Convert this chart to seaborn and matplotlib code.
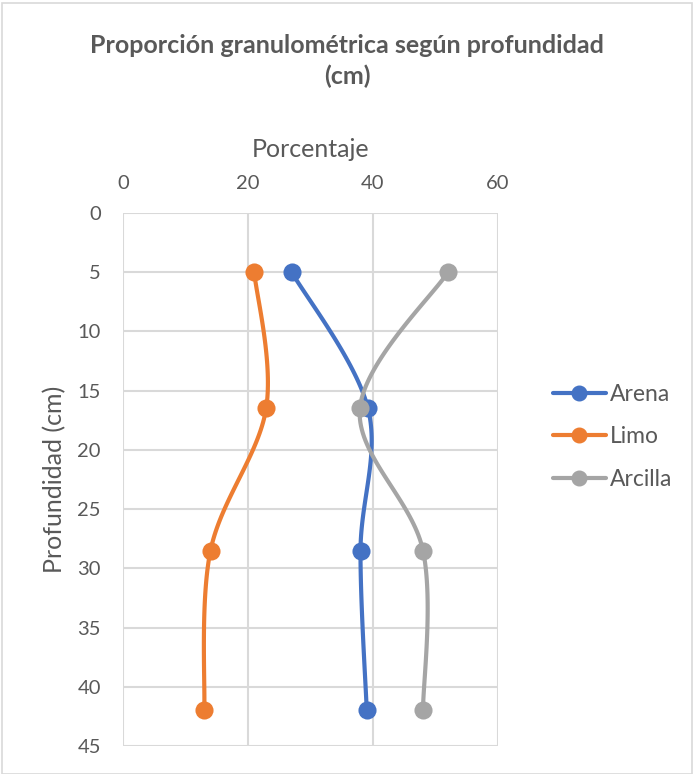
import numpy as np
import pandas as pd
import matplotlib
matplotlib.use("Agg")
import matplotlib.pyplot as plt
from matplotlib.patches import Rectangle
from matplotlib.lines import Line2D
import seaborn as sns

# Sampling depths (cm) and fraction percentages per texture class
profundidad = [5, 16.5, 28.5, 42]
arena = [27, 39.2, 38, 39]
limo = [21, 22.9, 14, 13]
arcilla = [52, 37.9, 48, 48]

series_names = ["Arena", "Limo", "Arcilla"]
series_colors = ["#4472C4", "#ED7D31", "#A5A5A5"]
x_ticks = [0, 20, 40, 60]
y_ticks = [0, 5, 10, 15, 20, 25, 30, 35, 40, 45]

sns.set_theme(style="white")
plt.rcParams["font.family"] = ["Lato", "DejaVu Sans"]

W, H = 694, 774
fig = plt.figure(figsize=(W / 100, H / 100), dpi=100)
ax = fig.add_axes([123 / W, 1 - 746 / H, (498 - 123) / W, (746 - 213) / H])

# Pixel scale of the axes, used so the smoothing behaves like a spreadsheet chart
sx = (498 - 123) / 60.0
sy = (746 - 213) / 45.0


def smooth(xs, ys, n=40, t=1 / 6):
    px = np.array(xs, float) * sx
    py = np.array(ys, float) * sy
    P = np.column_stack([px, py])
    out = []
    for i in range(len(P) - 1):
        p0 = P[i - 1] if i > 0 else P[i]
        p1 = P[i]
        p2 = P[i + 1]
        p3 = P[i + 2] if i + 2 < len(P) else P[i + 1]
        c1 = p1 + (p2 - p0) * t
        c2 = p2 - (p3 - p1) * t
        u = np.linspace(0, 1, n)[:, None]
        seg = ((1 - u) ** 3) * p1 + 3 * ((1 - u) ** 2) * u * c1 + 3 * (1 - u) * u ** 2 * c2 + u ** 3 * p2
        out.append(seg if i == 0 else seg[1:])
    seg = np.vstack(out)
    return seg[:, 0] / sx, seg[:, 1] / sy


for name, vals, col in zip(series_names, [arena, limo, arcilla], series_colors):
    cx, cy = smooth(vals, profundidad)
    curve = pd.DataFrame({"x": cx, "y": cy})
    sns.lineplot(data=curve, x="x", y="y", sort=False, estimator=None,
                 color=col, linewidth=3, ax=ax, zorder=3)
    pts = pd.DataFrame({"x": vals, "y": profundidad})
    sns.scatterplot(data=pts, x="x", y="y", color=col, s=170, linewidth=0,
                    ax=ax, zorder=4)

ax.set_xlim(0, 60)
ax.set_ylim(45, 0)
ax.set_xticks(x_ticks)
ax.set_yticks(y_ticks)
ax.xaxis.tick_top()
ax.xaxis.set_label_position("top")
ax.grid(True, color="#D9D9D9", linewidth=1.5)
ax.set_axisbelow(True)
for s in ax.spines.values():
    s.set_visible(False)
ax.tick_params(axis="both", length=0, labelsize=14.5, labelcolor="#595959")
ax.tick_params(axis="x", pad=15)
ax.tick_params(axis="y", pad=16)
ax.set_xlabel("Porcentaje", fontsize=18, color="#595959", labelpad=13)
ax.set_ylabel("Profundidad (cm)", fontsize=18, color="#595959", labelpad=8)

fig.text(0.5, 1 - 61 / H, "Proporción granulométrica según profundidad\n(cm)",
         ha="center", va="center", fontsize=18, fontweight="bold",
         color="#595959", linespacing=1.35)

handles = [Line2D([0], [0], color=c, linewidth=3, marker="o", markersize=10.5)
           for c in series_colors]
fig.legend(handles, series_names, loc="center left",
           bbox_to_anchor=(553 / W, 1 - 437 / H), frameon=False,
           fontsize=16.5, labelcolor="#595959", handlelength=2.3,
           handletextpad=0.2, labelspacing=0.95, borderpad=0, borderaxespad=0)

fig.patches.append(Rectangle((2 / W, 0), 1 - 4 / W, 1 - 3 / H, transform=fig.transFigure,
                             fill=False, edgecolor="#D9D9D9", linewidth=1.2))

fig.savefig("out.png", dpi=100)
